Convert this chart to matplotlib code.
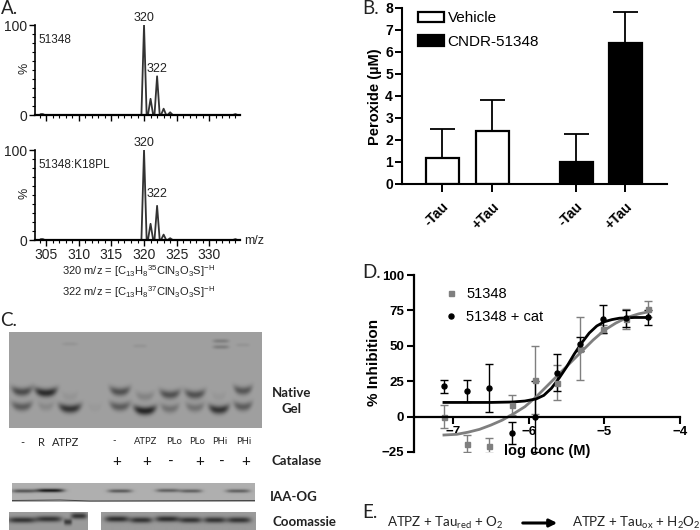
import numpy as np
import matplotlib
matplotlib.use('Agg')
import matplotlib.pyplot as plt

plt.rcParams['font.family'] = ['Liberation Sans', 'DejaVu Sans']
plt.rcParams['mathtext.default'] = 'regular'

W, H = 700, 530

# A. spectra
mz = [304, 304.2, 304.5, 304.8, 305, 319.6, 320, 320.4, 320.6, 321, 321.4, 321.6, 322, 322.4, 322.6, 323, 323.4,
      323.6, 324, 324.4, 324.7, 333.6, 334, 334.3]
top_int = [0, 1, 1, 0, 0, 0, 100, 0, 0, 18, 0, 0, 43, 0, 0, 7, 0, 0, 3, 0, 0, 0, 1, 0]
bot_int = [0, 1, 1, 0, 0, 0, 100, 0, 0, 18, 0, 0, 38, 0, 0, 6, 0, 0, 2, 0, 0, 0, 1, 0]
mz_ticks = [305, 310, 315, 320, 325, 330]

# B. peroxide
b_labels = ['-Tau', '+Tau', '-Tau', '+Tau']
b_pos = [1, 2, 3.68, 4.66]
b_vals = [1.2, 2.4, 1.0, 6.4]
b_errs = [1.3, 1.4, 1.25, 1.4]
b_cols = ['white', 'white', 'black', 'black']

# D. inhibition
log_c = [-7.12, -6.82, -6.52, -6.22, -5.92, -5.62, -5.32, -5.02, -4.72, -4.42]
grey_y = [0, -19, -20.5, 8, 26, 24, 48, 62, 69, 76]
grey_e = [8, 6, 5.5, 7, 24, 12.5, 22, 3, 7, 5.5]
black_y = [21.5, 18, 20, -11.5, 0, 31, 51, 69, 69.5, 70]
black_e = [4.5, 8, 17, 8, 25, 13, 5, 10, 6, 5]
grey_fit_x = [-7.12, -6.95, -6.8, -6.65, -6.5, -6.35, -6.2, -6.05, -5.9, -5.75, -5.6, -5.45, -5.3, -5.15, -5.0, -4.85,
              -4.7, -4.55, -4.42]
grey_fit_y = [-13, -12.5, -11, -9, -6, -2.5, 2, 7, 14, 22, 30, 38, 46, 54, 61, 66, 70, 72.5, 74]
black_fit_x = [-7.12, -6.8, -6.5, -6.22, -6.05, -5.9, -5.8, -5.7, -5.6, -5.5, -5.4, -5.3, -5.2, -5.1, -5.0, -4.9, -4.8,
               -4.6, -4.42]
black_fit_y = [10, 10, 10, 10.3, 11, 12.5, 15, 20, 27, 35, 44, 52, 59, 64, 67, 68.5, 69.5, 70, 70]

# C. gel bands: lane x, band y, half width, strength (pixels of the panel)
gel_bands = [
    (22, 392, 10, 0.75), (22, 407, 10, 0.6),
    (46, 393, 11, 1.05), (46, 407, 8, 0.2),
    (70, 409, 11, 0.95), (70, 397, 8, 0.1),
    (95, 408, 7, 0.06),
    (120, 392, 10, 0.7), (120, 407, 10, 0.6),
    (145, 411, 11, 1.1), (145, 397, 9, 0.25),
    (170, 395, 10, 0.7), (170, 409, 9, 0.4),
    (195, 395, 10, 0.7), (195, 408, 9, 0.4),
    (219, 410, 10, 0.95), (219, 397, 7, 0.08),
    (243, 391, 9, 0.65), (243, 407, 9, 0.6),
]
gel_top_bands = [(221, 341, 8, 0.3), (221, 347, 8, 0.3), (70, 344, 8, 0.1), (243, 345, 7, 0.1), (140, 346, 7, 0.1)]
iaa_bands = [(24, 491, 12, 0.75), (50, 490.5, 14, 1.25), (120, 491, 12, 0.7), (168, 490.5, 12, 0.65),
             (191, 491, 11, 0.65), (238, 491, 12, 0.65)]
coo_bands = [(22, 520, 14, 0.85), (49, 519, 13, 0.85), (68, 522, 4, 0.8), (79, 516, 8, 0.85),
             (117, 519, 12, 0.9), (141, 520, 11, 0.85), (167, 519, 12, 0.9), (190, 520, 11, 0.85),
             (214, 520, 11, 0.85), (238, 520, 12, 0.85)]


def ax_px(x0, y0, x1, y1):
    # axes from pixel box, y counted from the top
    return fig.add_axes([x0 / W, 1 - y1 / H, (x1 - x0) / W, (y1 - y0) / H])


def txt(x, y, s, **kw):
    kw.setdefault('ha', 'center')
    kw.setdefault('va', 'center')
    return fig.text(x / W, 1 - y / H, s, **kw)


def blot(x0, y0, x1, y1, bands, bg, sy, dark=120, smile=0, flat=()):
    xs, ys = np.meshgrid(np.arange(x0, x1, 0.5) + 0.25, np.arange(y0, y1, 0.5) + 0.25)
    img = np.full(xs.shape, float(bg))
    for bx, by, hw, s in bands:
        across = np.exp(-((xs - bx) / hw) ** 4)
        centre = by - smile * ((xs - bx) / hw) ** 2
        img -= dark * s * across * np.exp(-((ys - centre) / sy) ** 2)
    for bx, by, hw, s in flat:
        img -= dark * s * np.exp(-((xs - bx) / hw) ** 4) * np.exp(-((ys - by) / 2.0) ** 2)
    a = ax_px(x0, y0, x1, y1)
    a.imshow(np.clip(img, 0, 255), cmap='gray', vmin=0, vmax=255, aspect='auto', interpolation='bilinear',
             extent=[x0, x1, y1, y0])
    a.axis('off')
    return a


fig = plt.figure(figsize=(7, 5.3), dpi=100)

# panel A
for (y0, y1, vals, name) in [(25, 115, top_int, '51348'), (150, 240, bot_int, '51348:K18PL')]:
    ax = ax_px(35, y0, 240, y1)
    ax.plot(mz, vals, color='#333333', lw=1.3)
    ax.set_xlim(303.3, 334.7)
    ax.set_ylim(0, 100)
    ax.spines[['top', 'right']].set_visible(False)
    ax.spines['bottom'].set_linewidth(1.6)
    ax.spines['left'].set_linewidth(1.2)
    ax.patch.set_alpha(0)
    ax.set_xticks(mz_ticks)
    ax.set_xticks(np.arange(304, 335), minor=True)
    ax.set_yticks([0, 100])
    ax.set_yticks(np.arange(0, 101, 10), minor=True)
    ax.tick_params(axis='both', which='major', length=4, width=1.0, labelsize=10, pad=1.5, labelcolor='#222222')
    ax.tick_params(axis='both', which='minor', length=2, width=0.8)
    if y0 == 25:
        ax.set_xticklabels([])
    txt(38, y0 + 15, name, ha='left', fontsize=8.5, color='#222222')
    txt(144, y0 - 7, '320', fontsize=9, color='#222222')
    txt(157, y0 + 44, '322', fontsize=9, color='#222222')
    txt(25, y0 + 43, '%', rotation=90, fontsize=9, color='#222222')
txt(254, 241, 'm/z', fontsize=9, color='#222222')
txt(139, 271, r'320 m/z = [C$_{13}$H$_{8}$$^{35}$ClN$_{3}$O$_{3}$S]$^{-H}$', fontsize=8, color='#222222')
txt(139, 292, r'322 m/z = [C$_{13}$H$_{8}$$^{37}$ClN$_{3}$O$_{3}$S]$^{-H}$', fontsize=8, color='#222222')

# panel B
ax = ax_px(402, 7.5, 667, 184)
bars = ax.bar(b_pos, b_vals, width=0.66, color=b_cols, edgecolor='black', lw=1.6)
ax.errorbar(b_pos, b_vals, yerr=[[0] * 4, b_errs], fmt='none', ecolor='black', elinewidth=1.3, capsize=9, capthick=1.3)
ax.set_xlim(1 - 40 / 50, 1 + 225 / 50)
ax.set_ylim(0, 8)
ax.set_yticks(range(9))
ax.set_xticks(b_pos)
ax.set_xticklabels(b_labels, rotation=45, ha='right', rotation_mode='anchor', fontsize=10, fontweight='bold')
ax.spines[['top', 'right']].set_visible(False)
ax.spines['left'].set_linewidth(1.5)
ax.spines['bottom'].set_linewidth(1.5)
ax.tick_params(axis='y', length=5, width=1.4, labelsize=10, pad=1.5)
ax.tick_params(axis='x', length=6, width=1.4, pad=5)
for t in ax.get_yticklabels():
    t.set_fontweight('bold')
ax.legend(handles=[bars[0], bars[2]], labels=['Vehicle', 'CNDR-51348'], loc='upper left', frameon=False,
          bbox_to_anchor=(0.045, 1.0), fontsize=11, handlelength=1.75, handleheight=0.65, labelspacing=0.62,
          handletextpad=0.2, borderpad=0.25, borderaxespad=0)
txt(375, 97, 'Peroxide (\u00b5M)', rotation=90, fontsize=10.5, fontweight='bold')

# panel D
ax = ax_px(414, 275, 680, 452)
ax.errorbar(log_c, grey_y, yerr=grey_e, fmt='s', color='#7f7f7f', ms=3.6, elinewidth=1, capsize=3, capthick=1,
            label='51348')
ax.errorbar(log_c, black_y, yerr=black_e, fmt='o', color='black', ms=3.6, elinewidth=1, capsize=3, capthick=1,
            label='51348 + cat')
ax.plot(grey_fit_x, grey_fit_y, color='#7f7f7f', lw=2)
ax.plot(black_fit_x, black_fit_y, color='black', lw=2)
ax.set_xlim(-7.516, -4)
ax.set_ylim(-25, 100)
ax.set_yticks([-25, 0, 25, 50, 75, 100])
ax.set_xticks([-7, -6, -5, -4])
ax.spines[['top', 'right']].set_visible(False)
ax.spines['bottom'].set_position(('data', 0))
ax.spines['bottom'].set_linewidth(1.6)
ax.spines['left'].set_linewidth(1.6)
ax.patch.set_alpha(0)
ax.tick_params(axis='both', length=5, width=1.5, labelsize=9.5, pad=2)
for t in ax.get_xticklabels() + ax.get_yticklabels():
    t.set_fontweight('bold')
txt(547, 451, 'log conc (M)', fontsize=10.5, fontweight='bold')
txt(374, 362, '% Inhibition', rotation=90, fontsize=11, fontweight='bold')
h, l = ax.get_legend_handles_labels()
pt1 = ax.plot([], [], 's', color='#7f7f7f', ms=3.6)[0]
pt2 = ax.plot([], [], 'o', color='black', ms=3.6)[0]
ax.legend([pt1, pt2], l, loc='upper left', frameon=False, bbox_to_anchor=(0.075, 0.95), fontsize=10.5, numpoints=1,
          labelspacing=0.62, handletextpad=0.0, borderaxespad=0, borderpad=0.2)

# panel C
blot(9, 332, 262, 428, gel_bands, 160, 4.2, dark=110, smile=3, flat=gel_top_bands)
a = blot(12, 483, 255, 502, iaa_bands, 175, 1.8)
a.plot([12, 60, 90, 255], [500.5, 500, 501, 500.5], color='#444444', lw=0.7)
a.set_xlim(12, 255)
a.set_ylim(502, 483)
blot(9, 512, 88, 530, coo_bands[:4], 155, 3)
blot(101, 512, 255, 530, coo_bands[4:], 155, 3)

lato = ['Lato', 'DejaVu Sans']
for x, s in [(22, '-'), (41, 'R'), (66, 'ATPZ')]:
    txt(x, 443, s, fontsize=8, family=lato, color='#222222')
for x, s in [(114, '-'), (146, 'ATPZ'), (174, 'PLo'), (197, 'PLo'), (220, 'PHi'), (244, 'PHi')]:
    txt(x, 441, s, fontsize=6.8, family=lato, color='#222222')
for x, s in [(117, '+'), (147, '+'), (171, '-'), (200, '+'), (222, '-'), (246, '+')]:
    txt(x, 462, s, fontsize=11, family=lato, color='#111111')
for x, y, s in [(292, 393, 'Native'), (292, 409, 'Gel'), (297, 461, 'Catalase'), (294, 497, 'IAA-OG'),
                (304, 522, 'Coomassie')]:
    txt(x, y, s, fontsize=9.5, family=lato, fontweight='bold', color='#222222')

# panel letters
for x, y, s in [(1, 8, 'A.'), (362, 8, 'B.'), (0, 321, 'C.'), (362, 273, 'D.'), (362, 512, 'E.')]:
    txt(x, y, s, ha='left', fontsize=13.5, family=lato, color='#222222')

# panel E
txt(387, 523, r'ATPZ + Tau$_{red}$ + O$_{2}$', ha='left', fontsize=9.6, family=lato, color='#222222')
txt(572, 523, r'ATPZ + Tau$_{ox}$ + H$_{2}$O$_{2}$', ha='left', fontsize=9.6, family=lato, color='#222222')
fig.add_artist(matplotlib.patches.FancyArrowPatch((520 / W, 1 - 523 / H), (560 / W, 1 - 523 / H),
                                                  transform=fig.transFigure, arrowstyle='-|>', mutation_scale=11,
                                                  color='black', lw=2.2))

fig.savefig('out.png', dpi=100)
